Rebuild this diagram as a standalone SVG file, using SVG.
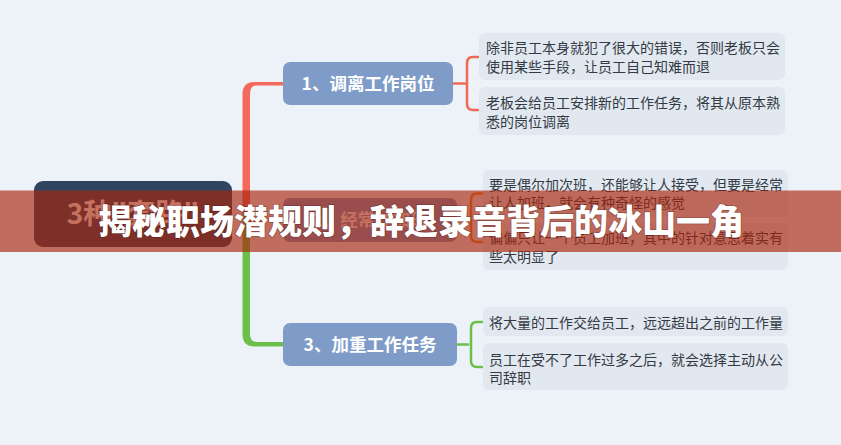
<svg xmlns="http://www.w3.org/2000/svg" width="841" height="445" viewBox="0 0 841 445">
<style>
.bg{fill:#edf2f8}
.root{fill:#2f4560}
.node{fill:#7f9cc8}
.leaf{fill:#e2e8f0}
.ntx{font-family:"Noto Sans CJK SC","Noto Sans",sans-serif;font-weight:bold;fill:#ffffff;text-anchor:middle}
.ltx{font-family:"Noto Sans CJK SC","Noto Sans",sans-serif;font-size:14px;fill:#333a44}
.br{fill:none;stroke-width:2.5;stroke-linecap:round}
.banner-text{font-family:"Noto Sans CJK SC","Noto Sans",sans-serif;font-weight:900;font-size:34px;fill:#ffffff;text-anchor:middle;stroke:rgba(60,20,10,0.35);stroke-width:1.5px;paint-order:stroke}
</style>
<rect class="bg" x="0" y="0" width="841" height="445"/>
<g id="connectors">
<path d="M242.5 214 V94 Q242.5 82 254.5 82 H284 V85.5 H256 Q250 85.5 250 94 V214 Z" fill="#f4695a"/>
<path d="M242.5 214 V334 Q242.5 346.5 254.5 346.5 H284 V342 H257 Q250 342 250 334 V214 Z" fill="#6cc04a"/>
<path d="M248 218.5 H284 V221.5 H248 Z" fill="#ef8a2c"/>
<path class="br" stroke="#ef6a52" d="M453 83.5 H465 M478 57 H473 Q467 57 467 63 V104 Q467 110 473 110 H478"/>
<path class="br" stroke="#ef8a2c" d="M457 220 H468 M482 193.5 H477 Q471 193.5 471 199.5 V236 Q471 242 477 242 H482"/>
<path class="br" stroke="#6cc04a" d="M457 344.5 H468 M482 322 H477 Q471 322 471 328 V361 Q471 367 477 367 H482"/>
</g>
<g id="root">
<rect class="root" x="34" y="181" width="198" height="66" rx="9"/>
<text class="ntx" x="133" y="224" font-size="28">3种"套路"</text>
</g>
<g id="node1">
<rect class="node" x="283" y="62" width="170" height="43" rx="7"/>
<text class="ntx" x="368" y="90" font-size="17.5">1、调离工作岗位</text>
</g>
<g id="node2">
<rect class="node" x="283" y="198" width="174" height="44" rx="7"/>
<text class="ntx" x="370" y="226" font-size="17.5">2、经常让加班</text>
</g>
<g id="node3">
<rect class="node" x="283" y="323" width="174" height="43" rx="7"/>
<text class="ntx" x="370" y="351" font-size="17.5">3、加重工作任务</text>
</g>
<g id="leaf1a">
<rect class="leaf" x="479" y="33" width="306" height="47" rx="6"/>
<text class="ltx" x="486" y="53">除非员工本身就犯了很大的错误，否则老板只会</text>
<text class="ltx" x="486" y="72">使用某些手段，让员工自己知难而退</text>
</g>
<g id="leaf1b">
<rect class="leaf" x="479" y="87" width="306" height="48" rx="6"/>
<text class="ltx" x="486" y="108">老板会给员工安排新的工作任务，将其从原本熟</text>
<text class="ltx" x="486" y="127">悉的岗位调离</text>
</g>
<g id="leaf2a">
<rect class="leaf" x="483" y="170" width="305" height="47" rx="6"/>
<text class="ltx" x="489" y="190">要是偶尔加次班，还能够让人接受，但要是经常</text>
<text class="ltx" x="489" y="208">让人加班，就会有种奇怪的感觉</text>
</g>
<g id="leaf2b">
<rect class="leaf" x="483" y="223" width="305" height="47" rx="6"/>
<text class="ltx" x="489" y="243">偏偏只让一个员工加班，其中的针对意思着实有</text>
<text class="ltx" x="489" y="262">些太明显了</text>
</g>
<g id="leaf3a">
<rect class="leaf" x="483" y="307" width="305" height="29" rx="6"/>
<text class="ltx" x="489" y="328">将大量的工作交给员工，远远超出之前的工作量</text>
</g>
<g id="leaf3b">
<rect class="leaf" x="483" y="343" width="305" height="47" rx="6"/>
<text class="ltx" x="489" y="365">员工在受不了工作过多之后，就会选择主动从公</text>
<text class="ltx" x="489" y="383">司辞职</text>
</g>
<g id="banner">
<rect x="0" y="190.5" width="841" height="61.5" fill="#a8240a" opacity="0.65"/>
<text class="banner-text" x="421" y="234">揭秘职场潜规则，辞退录音背后的冰山一角</text>
</g>
</svg>
